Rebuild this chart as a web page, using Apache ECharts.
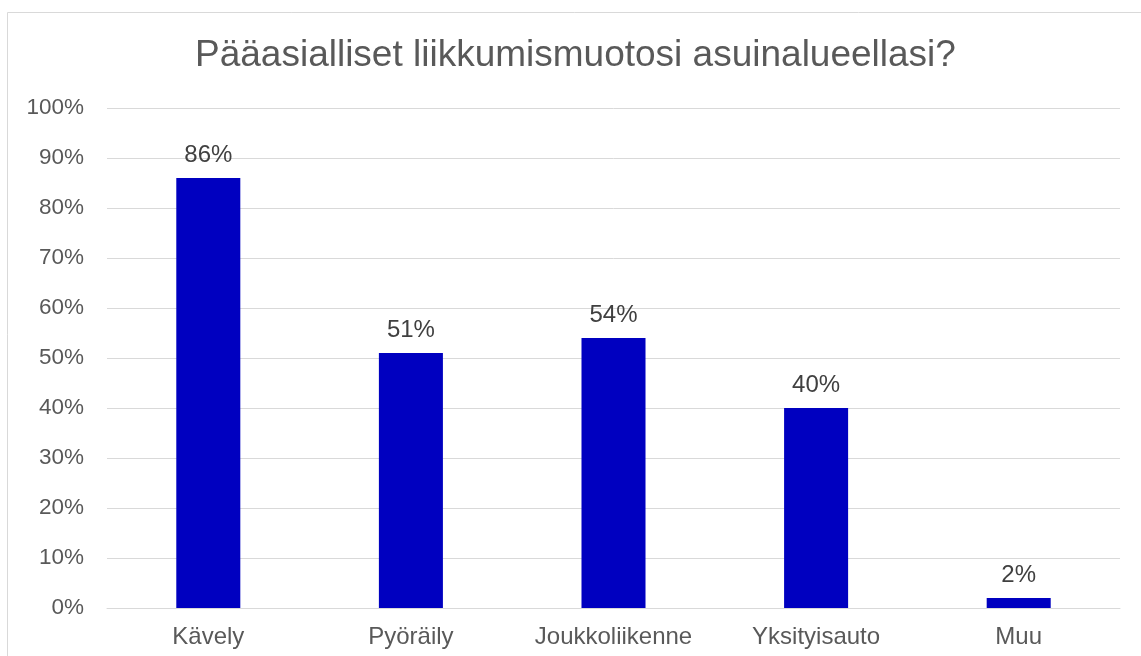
<!DOCTYPE html>
<html>
<head>
<meta charset="utf-8">
<script src="https://cdn.jsdelivr.net/npm/echarts@6/dist/echarts.min.js"></script>
<style>
    html, body { margin: 0; padding: 0; background: #fff; }
    #chart { width: 1141px; height: 656px; }
</style>
</head>
<body>
<div id="chart"></div>
<script>
const titleText = 'Pääasialliset liikkumismuotosi asuinalueellasi?'
const categories = ['Kävely', 'Pyöräily', 'Joukkoliikenne', 'Yksityisauto', 'Muu']
const values = [86, 51, 54, 40, 2]

const font = '"Liberation Sans", Arial, sans-serif'

let chart = echarts.init(document.getElementById('chart'))
chart.setOption({
    animation: false,
    backgroundColor: '#fff',
    title: {
        text: titleText,
        left: 190,
        top: 32,
        textStyle: { fontFamily: font, fontSize: 37, fontWeight: 'normal', color: '#595959' }
    },
    graphic: [{
        type: 'rect',
        shape: { x: 7.5, y: 12.5, width: 1150, height: 700 },
        style: { fill: 'none', stroke: '#d9d9d9', lineWidth: 1 },
        silent: true
    }],
    grid: { left: 107, right: 21, top: 108, bottom: 48, containLabel: false },
    xAxis: {
        type: 'category',
        data: categories,
        axisLine: { show: true, lineStyle: { color: '#d9d9d9', width: 1 } },
        axisTick: { show: false },
        axisLabel: { fontFamily: font, fontSize: 24, color: '#595959', margin: 17, interval: 0 }
    },
    yAxis: {
        type: 'value',
        min: 0,
        max: 100,
        interval: 10,
        axisLine: { show: false },
        axisTick: { show: false },
        splitLine: { lineStyle: { color: '#d9d9d9', width: 1 } },
        axisLabel: { fontFamily: font, fontSize: 22.5, color: '#595959', margin: 23, formatter: '{value}%' }
    },
    series: [{
        type: 'bar',
        data: values,
        barWidth: '31.6%',
        itemStyle: { color: '#0000C0' },
        label: {
            show: true,
            position: 'top',
            distance: 11,
            formatter: '{c}%',
            fontFamily: font,
            fontSize: 24,
            color: '#404040'
        }
    }]
})
</script>
</body>
</html>
